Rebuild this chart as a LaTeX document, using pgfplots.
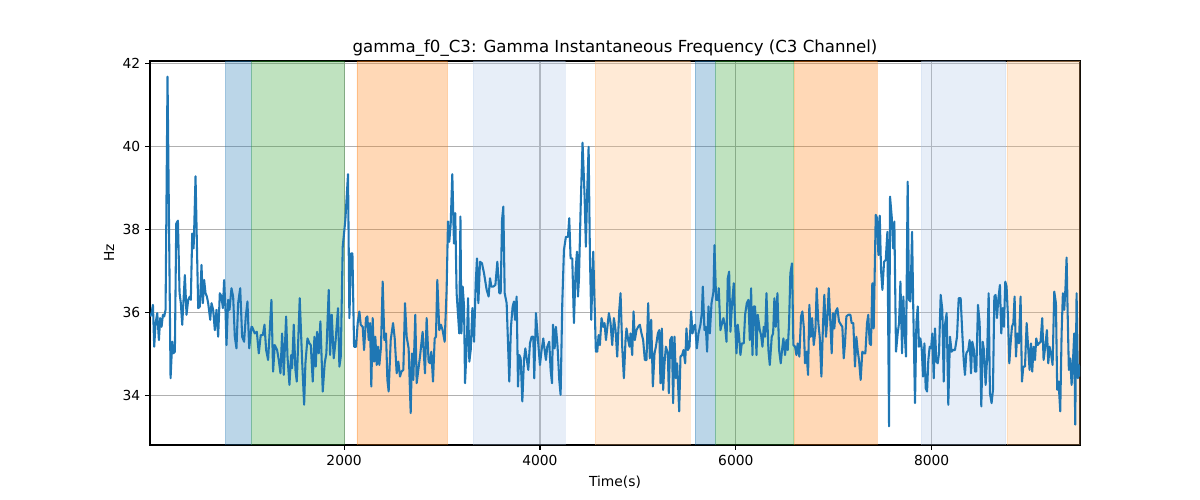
\documentclass[border=0pt]{standalone}
\usepackage{fontspec}
\setmainfont{DejaVu Sans}
\usepackage{pgfplots}
\pgfplotsset{compat=1.18}
\definecolor{tabblue}{HTML}{1F77B4}
\definecolor{tabgreen}{HTML}{2CA02C}
\definecolor{taborange}{HTML}{FF7F0E}
\definecolor{ltblue}{HTML}{AEC7E8}
\definecolor{ltorange}{HTML}{FFBB78}
\definecolor{gridgray}{HTML}{B0B0B0}
\begin{document}
\begin{tikzpicture}[x=1in,y=1in]
\path[use as bounding box] (0,0) rectangle (12,5);
\begin{axis}[
  at={(1.5in,0.55in)}, anchor=south west,
  width=9.3in, height=3.84in, scale only axis,
  xmin=18, xmax=9515, ymin=32.8, ymax=42.06,
  xtick={2000,4000,6000,8000}, ytick={34,36,38,40,42},
  grid=major, grid style={color=gridgray, line width=0.8pt},
  axis line style={line width=0.8pt},
  tick align=outside, major tick length=3.5pt,
  tick style={black, line width=0.8pt},
  tick pos=left,
  scaled ticks=false,
  /pgf/number format/1000 sep={},
  /pgf/number format/assume math mode=true,
  ticklabel style={font=\fontsize{10}{12}\selectfont},
  every axis title shift=0pt,
  title={gamma\_f0\_C3: Gamma Instantaneous Frequency (C3 Channel)},
  title style={font=\fontsize{12}{14}\selectfont, at={(axis description cs:0.5,1.0217)}, anchor=base},
  xlabel={Time(s)},
  xlabel style={font=\fontsize{10}{12}\selectfont, at={(axis description cs:0.5,-0.109)}, anchor=base},
  ylabel={Hz},
  ylabel style={font=\fontsize{10}{12}\selectfont, at={(axis description cs:-0.0387,0.5)}, anchor=base, rotate=0},
]
% spans
\addplot[fill=tabblue, fill opacity=0.3, draw=tabblue, draw opacity=0.3] coordinates {(788,32.8) (1052,32.8) (1052,42.06) (788,42.06)} \closedcycle;
\addplot[fill=tabgreen, fill opacity=0.3, draw=tabgreen, draw opacity=0.3] coordinates {(1056,32.8) (2000,32.8) (2000,42.06) (1056,42.06)} \closedcycle;
\addplot[fill=taborange, fill opacity=0.3, draw=taborange, draw opacity=0.3] coordinates {(2130,32.8) (3055,32.8) (3055,42.06) (2130,42.06)} \closedcycle;
\addplot[fill=ltblue, fill opacity=0.3, draw=ltblue, draw opacity=0.3] coordinates {(3321,32.8) (4254,32.8) (4254,42.06) (3321,42.06)} \closedcycle;
\addplot[fill=ltorange, fill opacity=0.3, draw=ltorange, draw opacity=0.3] coordinates {(4564,32.8) (5534,32.8) (5534,42.06) (4564,42.06)} \closedcycle;
\addplot[fill=tabblue, fill opacity=0.3, draw=tabblue, draw opacity=0.3] coordinates {(5585,32.8) (5791,32.8) (5791,42.06) (5585,42.06)} \closedcycle;
\addplot[fill=tabgreen, fill opacity=0.3, draw=tabgreen, draw opacity=0.3] coordinates {(5793,32.8) (6590,32.8) (6590,42.06) (5793,42.06)} \closedcycle;
\addplot[fill=taborange, fill opacity=0.3, draw=taborange, draw opacity=0.3] coordinates {(6597,32.8) (7441,32.8) (7441,42.06) (6597,42.06)} \closedcycle;
\addplot[fill=ltblue, fill opacity=0.3, draw=ltblue, draw opacity=0.3] coordinates {(7894,32.8) (8755,32.8) (8755,42.06) (7894,42.06)} \closedcycle;
\addplot[fill=ltorange, fill opacity=0.3, draw=ltorange, draw opacity=0.3] coordinates {(8769,32.8) (9515,32.8) (9515,42.06) (8769,42.06)} \closedcycle;
% signal
\addplot[color=tabblue, line width=1.5pt, line join=round, mark=none] coordinates {
(20,35.9) (34,35.98) (48,36.18) (61,35.17) (75,35.74) (92,35.98) (109,35.33) (122,35.86) (136,35.65) (150,35.94) (163,35.90) (177,36.06) (197,41.68) (228,34.41) (245,35.29) (255,35.01) (272,35.05) (286,38.14) (303,38.21) (320,36.46) (333,36.22) (347,35.70) (374,36.90) (391,35.94) (408,36.30) (425,36.38) (435,36.30) (449,37.90) (463,37.54) (469,37.98) (483,39.28) (510,36.10) (527,36.14) (544,37.14) (558,36.22) (571,36.78) (585,36.46) (599,36.38) (612,36.22) (633,35.82) (646,36.22) (663,36.06) (680,35.57) (697,36.06) (714,35.41) (731,36.46) (748,36.38) (762,36.10) (775,36.78) (789,36.06) (799,35.21) (816,36.30) (830,36.06) (850,36.58) (867,36.38) (884,35.41) (901,35.13) (918,36.22) (939,36.58) (959,35.41) (979,35.29) (996,35.90) (1013,36.26) (1031,35.13) (1054,35.65)
(1061,35.65) (1088,35.49) (1109,35.53) (1129,35.01) (1149,35.45) (1170,35.45) (1187,35.70) (1204,35.09) (1224,34.85) (1258,36.30) (1275,34.57) (1292,35.21) (1316,35.09) (1333,34.85) (1350,34.53) (1367,35.49) (1384,34.49) (1408,35.90) (1422,34.93) (1442,34.25) (1459,34.97) (1469,34.65) (1486,35.70) (1503,34.61) (1517,34.33) (1547,36.34) (1571,34.85) (1592,33.77) (1605,34.77) (1626,35.37) (1646,35.25) (1660,35.21) (1680,34.33) (1697,35.41) (1711,34.69) (1724,35.53) (1741,35.01) (1758,35.78) (1782,34.09) (1802,34.77) (1819,35.01) (1843,36.54) (1857,34.97) (1874,35.94) (1894,34.89) (1911,35.25) (1938,36.10) (1952,34.69) (1966,34.93) (1986,37.58) (2013,38.23) (2040,39.33) (2054,35.86) (2071,37.42) (2085,37.42) (2102,35.17)
(2122,35.17) (2139,35.74) (2156,36.02) (2170,35.70) (2190,35.65) (2204,35.09) (2224,35.86) (2238,35.90) (2251,35.33) (2265,35.74) (2278,34.21) (2292,35.86) (2306,34.81) (2319,35.41) (2333,34.73) (2346,35.17) (2360,34.73) (2377,35.17) (2394,36.74) (2411,35.33) (2428,35.49) (2442,34.37) (2455,34.09) (2476,35.33) (2500,35.74) (2517,35.37) (2537,34.53) (2554,34.81) (2571,34.45) (2585,34.57) (2605,34.61) (2622,36.22) (2639,35.41) (2659,35.13) (2680,33.57) (2693,35.01) (2707,34.37) (2727,35.94) (2741,34.29) (2758,34.61) (2775,34.93) (2802,35.53) (2826,34.53) (2843,35.86) (2863,34.81) (2877,34.77) (2891,35.05) (2908,34.33) (2925,35.37) (2938,35.41) (2952,36.78) (2972,35.57) (2989,35.70) (3006,35.57) (3027,35.29) (3047,36.54) (3061,38.19) (3074,37.70) (3088,38.10) (3105,39.33) (3122,37.66) (3135,38.39) (3149,36.46) (3176,35.49) (3188,38.31)
(3198,35.49) (3211,36.62) (3225,36.14) (3235,34.29) (3252,35.17) (3266,36.34) (3279,34.81) (3293,35.09) (3310,36.10) (3327,35.29) (3344,36.70) (3357,37.30) (3371,36.22) (3388,37.22) (3408,37.18) (3429,36.94) (3456,36.54) (3476,36.38) (3490,36.82) (3504,36.62) (3524,36.62) (3545,36.66) (3565,37.22) (3585,36.46) (3599,36.46) (3613,38.23) (3626,38.55) (3640,36.46) (3660,36.22) (3687,34.33) (3704,35.65) (3721,36.14) (3735,36.26) (3745,35.82) (3762,36.38) (3776,34.21) (3789,34.97) (3803,34.89) (3820,33.85) (3837,34.85) (3851,35.13) (3864,34.89) (3881,34.61) (3898,35.25) (3915,35.41) (3932,35.41) (3942,34.41) (3959,35.98) (3980,35.33) (4000,34.73) (4017,35.09) (4034,35.37) (4048,35.09) (4061,34.85) (4075,35.17) (4095,35.29) (4109,34.61) (4123,34.29) (4133,35.70) (4150,35.13) (4163,35.65) (4180,35.17) (4197,34.37) (4211,34.01) (4228,36.22)
(4245,37.50) (4265,37.82) (4286,37.82) (4299,38.27) (4313,37.30) (4330,37.30) (4347,35.74) (4364,37.02) (4378,37.46) (4388,36.38) (4398,36.78) (4415,38.47) (4435,40.09) (4456,38.79) (4469,37.58) (4483,38.95) (4497,39.99) (4510,37.42) (4524,35.82) (4544,37.46) (4558,36.22) (4571,35.05) (4585,35.05) (4599,35.45) (4612,35.21) (4629,35.86) (4646,35.65) (4660,35.74) (4674,35.33) (4704,35.98) (4721,35.74) (4738,35.21) (4755,35.86) (4772,35.57) (4789,34.93) (4810,36.06) (4823,36.46) (4840,35.17) (4857,34.41) (4874,35.33) (4884,35.61) (4901,35.33) (4915,35.17) (4925,35.49) (4942,34.97) (4956,36.02) (4969,35.33) (4986,35.57) (5003,35.65) (5020,35.70) (5037,35.49) (5054,35.33) (5071,34.85) (5088,34.85) (5105,36.22) (5122,34.89) (5136,35.82) (5153,34.21) (5170,35.01) (5184,35.17) (5204,35.49) (5218,35.57) (5231,34.29) (5245,35.61) (5258,34.13) (5272,34.77) (5286,35.17)
(5306,35.01) (5316,34.05) (5330,35.33) (5347,35.41) (5360,33.81) (5374,35.41) (5388,34.41) (5401,34.77) (5422,33.61) (5435,34.93) (5452,34.97) (5466,35.09) (5483,34.77) (5496,35.61) (5510,35.09) (5527,35.17) (5544,36.02) (5558,35.49) (5571,35.65) (5585,35.70) (5602,35.13) (5619,35.49) (5639,35.70) (5653,35.98) (5663,36.62) (5680,35.57) (5694,35.65) (5707,35.05) (5721,36.14) (5735,35.49) (5752,36.22) (5772,36.50) (5782,37.62) (5799,36.30) (5816,36.30) (5826,36.58) (5843,35.57) (5860,35.74) (5874,35.86) (5891,35.65) (5905,35.29) (5918,36.82) (5932,36.98) (5945,35.53) (5962,36.22) (5979,36.70) (5993,35.74) (6007,35.01) (6020,35.70) (6034,35.41) (6047,34.97) (6061,35.25) (6081,35.25) (6095,35.94) (6112,36.22) (6129,36.30) (6143,35.33) (6156,36.58) (6170,34.97) (6183,36.14) (6197,36.14) (6211,34.97) (6224,35.94) (6245,35.57) (6258,35.45) (6272,35.17) (6285,35.65) (6299,35.41) (6313,36.46) (6333,35.09) (6347,34.73)
(6367,35.41) (6381,35.49) (6394,36.34) (6408,35.65) (6425,36.46) (6442,35.09) (6459,34.77) (6472,35.09) (6486,35.37) (6503,34.97) (6517,35.33) (6530,35.09) (6544,35.74) (6557,36.94) (6574,37.18) (6588,35.21) (6605,35.17) (6619,34.97) (6632,35.25) (6649,34.93) (6666,35.90) (6680,36.02) (6694,35.65) (6707,34.77) (6721,35.05) (6738,34.49) (6751,36.18) (6765,35.41) (6779,35.86) (6796,35.21) (6813,35.57) (6826,36.58) (6843,35.74) (6857,35.41) (6874,34.45) (6891,35.74) (6904,36.42) (6921,35.41) (6935,35.86) (6949,36.58) (6966,35.74) (6979,35.01) (6993,35.98) (7006,35.61) (7020,36.02) (7037,36.10) (7054,35.78) (7074,35.70) (7088,35.65) (7102,34.89) (7115,35.25) (7129,35.90) (7149,35.94) (7170,35.94) (7183,35.74) (7200,35.74) (7217,34.69) (7231,35.41) (7244,35.09) (7258,34.85) (7275,34.37) (7292,35.05) (7309,35.01) (7323,35.01) (7340,35.74) (7353,35.94) (7367,35.25) (7380,35.21) (7394,36.70) (7408,35.61)
(7429,38.35) (7443,38.27) (7456,37.38) (7470,38.33) (7483,37.02) (7497,36.54) (7514,37.22) (7531,37.26) (7548,37.94) (7565,33.25) (7575,38.79) (7592,38.31) (7606,37.54) (7619,38.19) (7636,35.05) (7653,35.49) (7667,35.74) (7681,36.74) (7698,35.01) (7711,36.38) (7721,35.65) (7738,34.93) (7755,39.15) (7769,36.30) (7783,36.26) (7800,37.94) (7813,35.98) (7830,33.81) (7844,35.74) (7858,36.14) (7871,35.17) (7885,35.37) (7898,35.13) (7912,34.45) (7926,35.25) (7939,34.17) (7953,34.09) (7966,34.85) (7980,35.17) (7994,35.13) (8007,35.49) (8021,34.41) (8034,35.61) (8048,34.81) (8062,34.77) (8075,35.01) (8092,36.42) (8109,36.06) (8123,34.33) (8136,35.70) (8153,35.98) (8170,33.77) (8187,35.41) (8204,35.05) (8218,35.09) (8238,35.09) (8259,35.41) (8276,36.34) (8296,36.34) (8313,35.49) (8327,34.85) (8340,34.49) (8354,35.01) (8374,35.09) (8388,35.33) (8402,34.53) (8415,35.29) (8432,35.09) (8442,34.57) (8456,34.57) (8473,36.18)
(8490,35.74) (8507,33.73) (8521,35.29) (8534,35.09) (8551,34.25) (8565,34.85) (8582,36.46) (8595,34.05) (8612,33.81) (8626,34.13) (8640,36.38) (8653,36.42) (8667,35.86) (8680,36.30) (8697,36.66) (8711,35.49) (8725,36.10) (8738,35.65) (8752,36.74) (8765,36.62) (8779,35.90) (8793,34.77) (8806,35.25) (8820,35.65) (8834,35.74) (8847,36.38) (8861,34.93) (8874,35.49) (8891,35.25) (8908,36.38) (8922,34.33) (8936,34.69) (8953,34.69) (8970,35.74) (8987,35.09) (9000,34.61) (9014,35.25) (9027,34.57) (9041,35.17) (9055,34.85) (9068,35.37) (9082,35.21) (9095,35.25) (9112,35.29) (9129,35.86) (9143,34.85) (9160,35.17) (9177,35.57) (9191,34.77) (9204,35.17) (9221,34.97) (9235,34.73) (9252,36.50) (9269,36.22) (9282,34.13) (9296,34.33) (9313,33.61) (9327,35.49) (9340,36.46) (9354,36.06) (9367,36.62) (9378,37.32) (9388,36.06) (9401,34.61) (9415,34.89) (9429,34.25) (9442,34.77) (9456,35.49) (9466,33.29) (9480,36.46) (9493,34.41) (9503,34.73) (9515,34.45)
};
\end{axis}
\end{tikzpicture}
\end{document}
